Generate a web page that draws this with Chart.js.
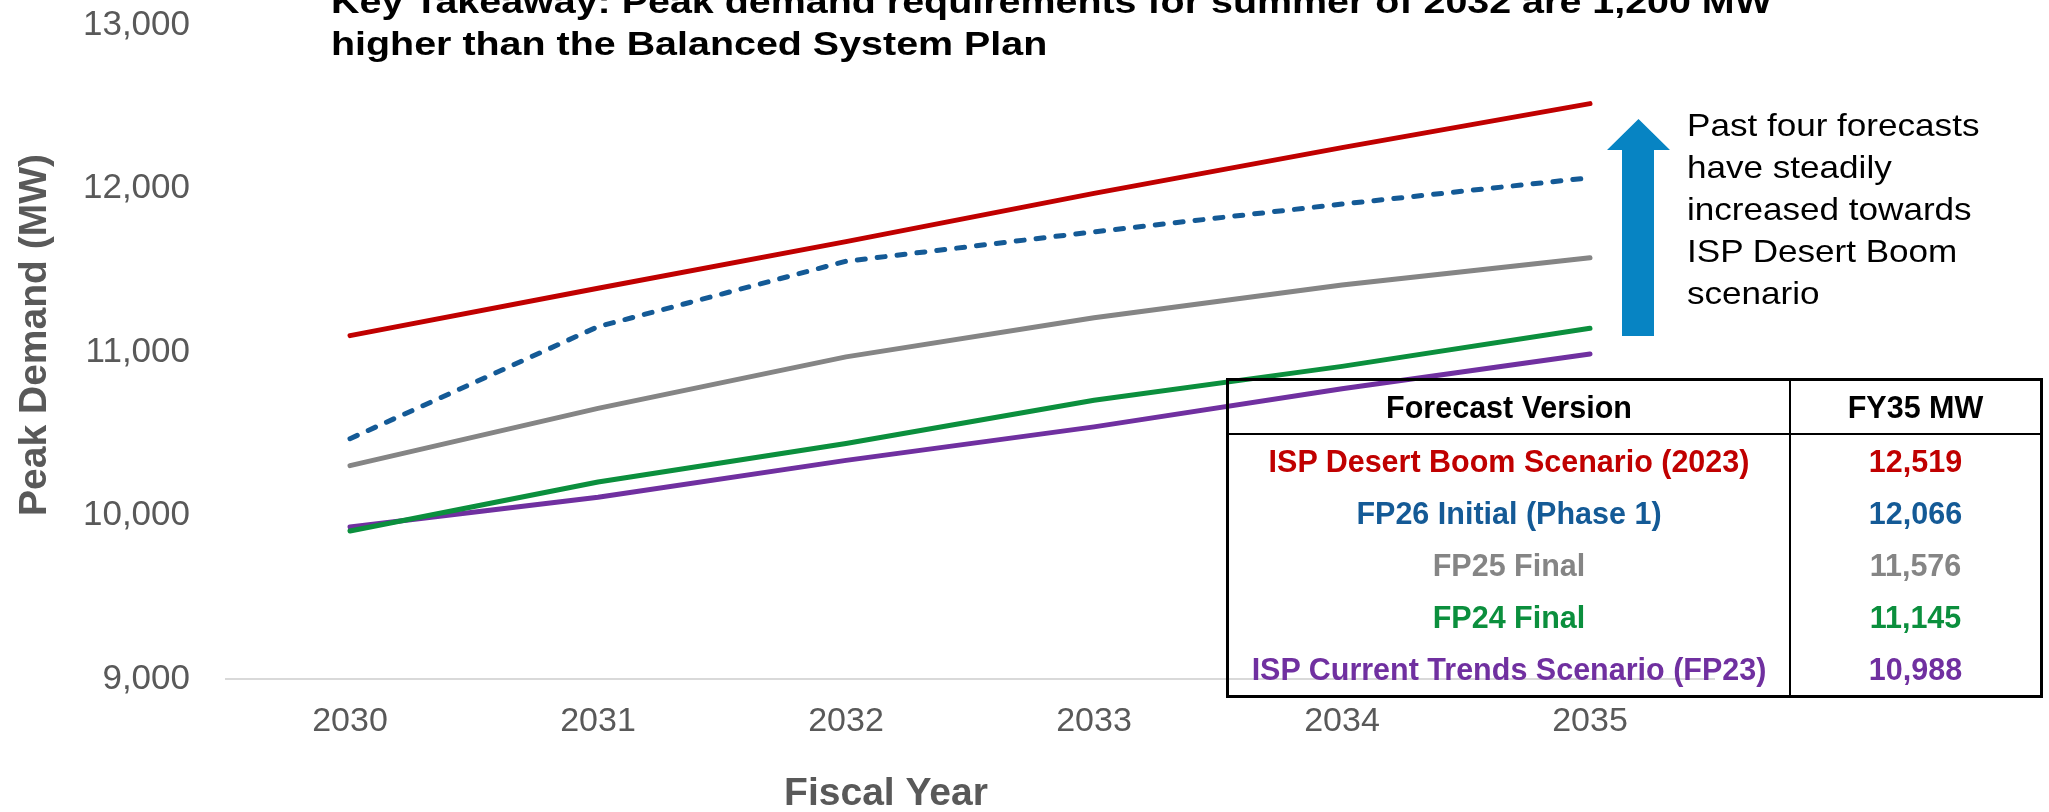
<!DOCTYPE html>
<html>
<head>
<meta charset="utf-8">
<script src="https://cdn.jsdelivr.net/npm/chart.js@4.4.1/dist/chart.umd.min.js"></script>
<style>
  body { margin: 0; background: #fff; }
  #wrap { position: relative; width: 2049px; height: 812px; overflow: hidden; background: #fff; }
  #plot { position: absolute; left: 0; top: 0; }
  #title {
    position: absolute; left: 331px; top: -19px;
    font: bold 32.6px "Liberation Sans", Arial, sans-serif; line-height: 42px;
    color: #000; white-space: nowrap;
    transform: scaleX(1.21); transform-origin: left top;
  }
  #note {
    position: absolute; left: 1687px; top: 104px;
    font: 30.5px "Liberation Sans", Arial, sans-serif; line-height: 42px;
    color: #000; white-space: nowrap;
    transform: scaleX(1.15); transform-origin: left top;
  }
  #arrow {
    position: absolute; left: 1607px; top: 119px; width: 63px; height: 217px;
    background: #0784c3;
    clip-path: polygon(31.5px 0, 63px 31px, 47px 31px, 47px 217px, 15px 217px, 15px 31px, 0 31px);
  }
  #versions {
    position: absolute; left: 1226px; top: 378px; width: 817px; height: 316px;
    border-collapse: collapse; border: 3px solid #000;
    font: bold 30.5px "Liberation Sans", Arial, sans-serif;
    background: transparent;
  }
  #versions td, #versions th { text-align: center; padding: 0; }
  #versions th { height: 52px; color: #000; border-bottom: 2px solid #000; }
  #versions td { height: 52px; }
  #versions .col1 { width: 560px; border-right: 2px solid #000; }
</style>
</head>
<body>
<div id="wrap">
  <canvas id="plot" width="2049" height="812"></canvas>
  <div id="title">Key Takeaway: Peak demand requirements for summer of 2032 are 1,200 MW<br>higher than the Balanced System Plan</div>
  <div id="arrow"></div>
  <div id="note">Past four forecasts<br>have steadily<br>increased towards<br>ISP Desert Boom<br>scenario</div>
  <table id="versions"></table>
</div>
<script>
// fiscal years on the x axis
const years = ['2030', '2031', '2032', '2033', '2034', '2035'];

// peak demand (MW) per forecast
const ispDesertBoom = [11100, 11390, 11675, 11970, 12250, 12519];
const fp26Initial = [10470, 11155, 11555, 11735, 11905, 12066];
const fp25Final = [10305, 10655, 10970, 11210, 11410, 11576];
const fp24Final = [9905, 10205, 10440, 10705, 10912, 11145];
const ispCurrentTrends = [9930, 10112, 10337, 10542, 10775, 10988];

const seriesNames = [
    'ISP Desert Boom Scenario (2023)',
    'FP26 Initial (Phase 1)',
    'FP25 Final',
    'FP24 Final',
    'ISP Current Trends Scenario (FP23)'
];
const seriesColors = ['#c00000', '#145a96', '#858585', '#0b8f3d', '#7030a0'];

const yMin = 9000;
const yMax = 13000;
const yStep = 1000;

const FONT = '"Liberation Sans", Arial, sans-serif';
const AXIS_GREY = '#595959';

Chart.defaults.font.family = FONT;
Chart.defaults.color = AXIS_GREY;

// build the FY35 table from the series
const allSeries = [ispDesertBoom, fp26Initial, fp25Final, fp24Final, ispCurrentTrends];
let tableHtml = '<tr><th class="col1">Forecast Version</th><th>FY35 MW</th></tr>';
for (let i = 0; i < allSeries.length; i++) {
    let last = allSeries[i][allSeries[i].length - 1];
    tableHtml += '<tr style="color:' + seriesColors[i] + '"><td class="col1">' + seriesNames[i] +
        '</td><td>' + last.toLocaleString('en-US') + '</td></tr>';
}
document.getElementById('versions').innerHTML = tableHtml;

// axis titles are placed by hand, like the original slide
const axisTitles = {
    id: 'axisTitles',
    afterDraw(chart) {
        const ctx = chart.ctx;
        ctx.save();
        ctx.fillStyle = AXIS_GREY;
        ctx.font = 'bold 39px ' + FONT;
        ctx.textAlign = 'center';
        ctx.textBaseline = 'alphabetic';
        ctx.fillText('Fiscal Year', 886, 805);
        ctx.translate(46, 335);
        ctx.rotate(-Math.PI / 2);
        ctx.fillText('Peak Demand (MW)', 0, 0);
        ctx.restore();
    }
};

function lineSet(label, data, color, dashed) {
    return {
        label: label,
        data: data,
        borderColor: color,
        backgroundColor: color,
        borderWidth: 5,
        borderDash: dashed ? [8, 12] : [],
        borderCapStyle: 'round',
        borderJoinStyle: 'round',
        pointRadius: 0,
        tension: 0,
        fill: false
    };
}

new Chart(document.getElementById('plot'), {
    type: 'line',
    data: {
        labels: years,
        datasets: [
            lineSet(seriesNames[0], ispDesertBoom, seriesColors[0], false),
            lineSet(seriesNames[1], fp26Initial, seriesColors[1], true),
            lineSet(seriesNames[2], fp25Final, seriesColors[2], false),
            lineSet(seriesNames[3], fp24Final, seriesColors[3], false),
            lineSet(seriesNames[4], ispCurrentTrends, seriesColors[4], false)
        ]
    },
    options: {
        responsive: false,
        animation: false,
        layout: { padding: { left: 0, right: 335, top: 25, bottom: 0 }, autoPadding: false },
        plugins: {
            legend: { display: false },
            tooltip: { enabled: false }
        },
        scales: {
            x: {
                offset: true,
                grid: { display: false, drawTicks: false },
                border: { display: true, color: '#d9d9d9', width: 2 },
                ticks: { font: { size: 34 }, color: AXIS_GREY, padding: 22 },
                afterFit(scale) {
                    scale.height = 133;
                    scale.paddingLeft = 0;
                    scale.paddingRight = 0;
                }
            },
            y: {
                min: yMin,
                max: yMax,
                grid: { display: false, drawTicks: false },
                border: { display: false },
                ticks: {
                    stepSize: yStep,
                    font: { size: 35 },
                    color: AXIS_GREY,
                    padding: 36,
                    callback: (v) => v.toLocaleString('en-US')
                },
                afterFit(scale) {
                    scale.width = 226;
                    scale.paddingTop = 0;
                    scale.paddingBottom = 0;
                }
            }
        }
    },
    plugins: [axisTitles]
});
</script>
</body>
</html>
